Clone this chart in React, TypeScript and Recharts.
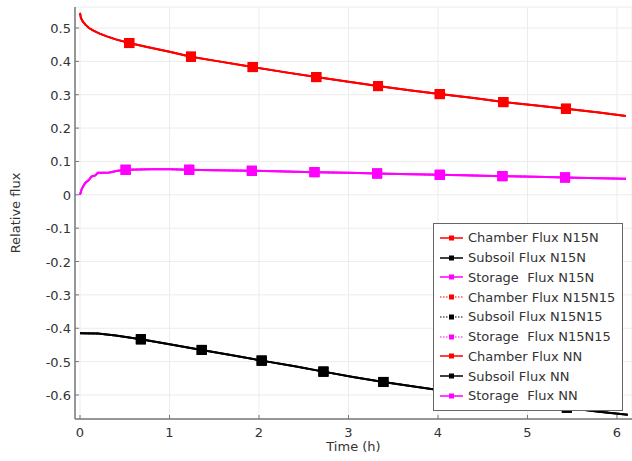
import React from "react";
import { ComposedChart, Line, XAxis, YAxis, CartesianGrid } from "recharts";

const xTicks = [0, 1, 2, 3, 4, 5, 6];
const yTicks = [-0.6, -0.5, -0.4, -0.3, -0.2, -0.1, 0, 0.1, 0.2, 0.3, 0.4, 0.5];

const chamberT = [0, 0.01, 0.03, 0.06, 0.1, 0.15, 0.22, 0.3, 0.4, 0.55, 0.75, 1.0, 1.24, 1.55, 1.93, 2.3, 2.64, 3.0, 3.33, 3.7, 4.02, 4.4, 4.73, 5.1, 5.43, 5.8, 6.1];
const chamberV = [0.545, 0.53, 0.52, 0.51, 0.5, 0.492, 0.483, 0.475, 0.466, 0.455, 0.443, 0.429, 0.414, 0.4, 0.383, 0.367, 0.353, 0.339, 0.326, 0.313, 0.302, 0.29, 0.278, 0.268, 0.258, 0.247, 0.236];
const chamberMarks = [0.55, 1.24, 1.93, 2.64, 3.33, 4.02, 4.73, 5.43];

const subsoilT = [0, 0.2, 0.4, 0.68, 1.0, 1.36, 1.7, 2.03, 2.4, 2.72, 3.05, 3.39, 3.75, 4.08, 4.42, 4.76, 5.1, 5.44, 5.8, 6.12];
const subsoilV = [-0.415, -0.416, -0.422, -0.433, -0.448, -0.465, -0.481, -0.497, -0.514, -0.53, -0.546, -0.561, -0.575, -0.588, -0.6, -0.612, -0.625, -0.638, -0.65, -0.659];
const subsoilMarks = [0.68, 1.36, 2.03, 2.72, 3.39, 4.08, 4.76, 5.44];

const storageT = [0, 0.02, 0.056, 0.1, 0.13, 0.17, 0.2, 0.27, 0.33, 0.42, 0.51, 0.8, 1.0, 1.22, 1.5, 1.92, 2.3, 2.62, 3.0, 3.32, 3.7, 4.02, 4.4, 4.72, 5.1, 5.42, 5.8, 6.1];
const storageV = [0, 0.018, 0.035, 0.045, 0.055, 0.058, 0.066, 0.066, 0.067, 0.072, 0.075, 0.077, 0.077, 0.075, 0.074, 0.072, 0.07, 0.068, 0.066, 0.064, 0.062, 0.06, 0.058, 0.056, 0.054, 0.052, 0.05, 0.048];
const storageMarks = [0.51, 1.22, 1.92, 2.62, 3.32, 4.02, 4.72, 5.42];

const cases = ["N15N", "N15N15", "NN"];
const fluxNames = ["Chamber Flux", "Subsoil Flux", "Storage  Flux"];
const fluxColors = ["#ff0000", "#000000", "#ff00ff"];

const build = (ts: number[], vs: number[], marks: number[]) =>
  ts.map((t, i) => ({ t, v: vs[i], m: marks.includes(t) }));

const fluxData = [
  build(chamberT, chamberV, chamberMarks),
  build(subsoilT, subsoilV, subsoilMarks),
  build(storageT, storageV, storageMarks),
];

const FONT = "'DejaVu Sans', sans-serif";
const TXT = "#333";

function squareDot(color: string, size: number) {
  return (p: any) => {
    if (!p.payload?.m) return <g key={`e-${p.index}`} />;
    return (
      <rect
        key={`d-${p.index}`}
        x={p.cx - size / 2}
        y={p.cy - size / 2}
        width={size}
        height={size}
        fill={color}
      />
    );
  };
}

function BottomTick({ x, y, payload }: any) {
  return (
    <g>
      <line x1={x} x2={x} y1={y} y2={y - 4} stroke="#777" />
      <text x={x} y={y + 18} textAnchor="middle" fontSize={13} fill={TXT} fontFamily={FONT}>
        {payload.value}
      </text>
    </g>
  );
}

function TopTick({ x, y }: any) {
  return <line x1={x} x2={x} y1={y} y2={y + 4} stroke="#777" />;
}

function LeftTick({ x, y, payload }: any) {
  const v = payload.value;
  const label = Math.abs(v) < 1e-9 ? "0" : v.toFixed(1);
  return (
    <g>
      <line x1={x} x2={x + 4} y1={y} y2={y} stroke="#777" />
      <text x={x - 4} y={y + 5} textAnchor="end" fontSize={13} fill={TXT} fontFamily={FONT}>
        {label}
      </text>
    </g>
  );
}

function RightTick({ x, y }: any) {
  return <line x1={x} x2={x - 4} y1={y} y2={y} stroke="#777" />;
}

function LegendBox() {
  const rows: { name: string; color: string; dotted: boolean }[] = [];
  cases.forEach((c) =>
    fluxNames.forEach((f, i) => rows.push({ name: `${f} ${c}`, color: fluxColors[i], dotted: c === "N15N15" }))
  );
  return (
    <div
      style={{
        position: "absolute",
        left: 433,
        top: 223,
        width: 188,
        border: "1px solid #666",
        background: "#fff",
        padding: "4px 0",
        fontFamily: FONT,
        fontSize: 13,
        color: TXT,
      }}
    >
      {rows.map((r) => (
        <div key={r.name} style={{ height: 19.75, display: "flex", alignItems: "center", whiteSpace: "pre" }}>
          <svg width={24} height={10} style={{ marginLeft: 6, marginRight: 4 }}>
            <line
              x1={0}
              x2={23}
              y1={5}
              y2={5}
              stroke={r.color}
              strokeWidth={r.dotted ? 1.2 : 1.5}
              strokeDasharray={r.dotted ? "1.5 1.5" : undefined}
            />
            <rect x={9} y={2.5} width={5} height={5} fill={r.color} />
          </svg>
          <span>{r.name}</span>
        </div>
      ))}
    </div>
  );
}

export default function App() {
  return (
    <div style={{ position: "absolute", left: 0, top: 0, width: 632, height: 461, background: "#fff" }}>
      <ComposedChart width={632} height={461} margin={{ top: 7, right: 0, bottom: 0, left: 0 }}>
        <CartesianGrid stroke="#ececec" />
        <XAxis
          dataKey="t"
          type="number"
          domain={[-0.056, 6.168]}
          ticks={xTicks}
          interval={0}
          allowDataOverflow
          height={42}
          tickSize={0}
          tickMargin={0}
          tick={<BottomTick />}
          axisLine={{ stroke: "#777", strokeWidth: 1.5 }}
          label={{ value: "Time (h)", position: "insideBottom", offset: 10, fontSize: 13, fill: TXT, fontFamily: FONT }}
        />
        <XAxis
          xAxisId="top"
          orientation="top"
          dataKey="t"
          type="number"
          domain={[-0.056, 6.168]}
          ticks={xTicks}
          interval={0}
          allowDataOverflow
          height={0}
          tickSize={0}
          tickMargin={0}
          tick={<TopTick />}
          axisLine={{ stroke: "#999" }}
        />
        <YAxis
          type="number"
          domain={[-0.672, 0.563]}
          ticks={yTicks}
          interval={0}
          allowDataOverflow
          width={75}
          tickSize={0}
          tickMargin={0}
          tick={<LeftTick />}
          axisLine={{ stroke: "#777", strokeWidth: 1.5 }}
          label={{ value: "Relative flux", angle: -90, position: "center", dx: -22, fontSize: 13, fill: TXT, fontFamily: FONT }}
        />
        <YAxis
          yAxisId="right"
          orientation="right"
          type="number"
          domain={[-0.672, 0.563]}
          ticks={yTicks}
          interval={0}
          allowDataOverflow
          width={0}
          tickSize={0}
          tickMargin={0}
          tick={<RightTick />}
          axisLine={false}
        />
        {cases.map((c) =>
          fluxData.map((d, i) => (
            <Line
              key={`${fluxNames[i]}-${c}`}
              name={`${fluxNames[i]} ${c}`}
              data={d}
              dataKey="v"
              type="linear"
              stroke={fluxColors[i]}
              strokeWidth={c === "N15N15" ? 1.5 : 2}
              strokeDasharray={c === "N15N15" ? "2 2" : undefined}
              dot={squareDot(fluxColors[i], 10)}
              activeDot={false}
              isAnimationActive={false}
            />
          ))
        )}
      </ComposedChart>
      <LegendBox />
    </div>
  );
}
